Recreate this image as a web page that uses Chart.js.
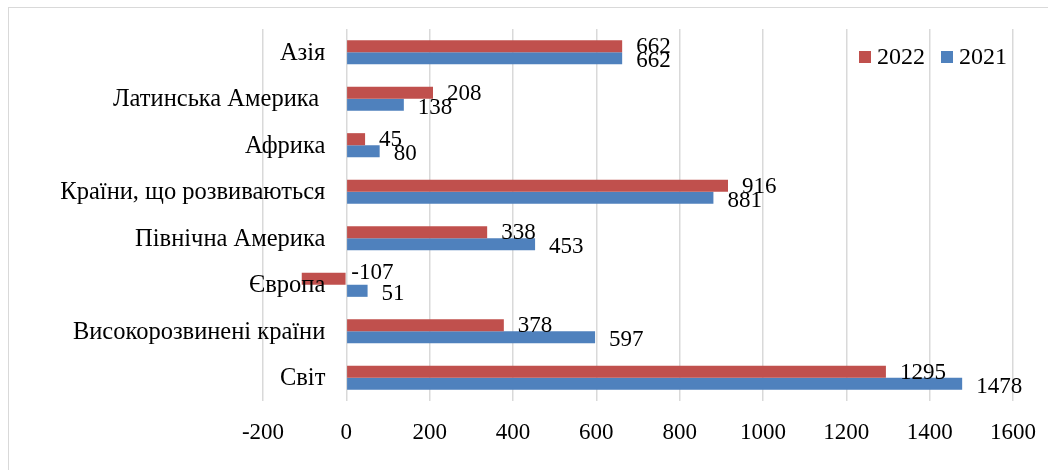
<!DOCTYPE html>
<html>
<head>
<meta charset="utf-8">
<script src="https://cdn.jsdelivr.net/npm/chart.js@4/dist/chart.umd.min.js"></script>
<style>
    html, body { margin: 0; padding: 0; background: #fff; overflow: hidden; }
    #wrap { position: relative; width: 1048px; height: 470px; }
    #frame { position: absolute; left: 8px; top: 7px; width: 1100px; height: 500px; border: 1.5px solid #d9d9d9; }
    canvas { position: absolute; left: 0; top: 0; }
</style>
</head>
<body>
<div id="wrap">
    <div id="frame"></div>
    <canvas id="chart" width="1048" height="470"></canvas>
</div>
<script>
var categories = ['Азія', 'Латинська Америка ', 'Африка', 'Країни, що розвиваються', 'Північна Америка', 'Європа', 'Високорозвинені країни', 'Світ'];
var values2022 = [662, 208, 45, 916, 338, -107, 378, 1295];
var values2021 = [662, 138, 80, 881, 453, 51, 597, 1478];
var xTicks = [-200, 1600, 200];

var fontFamily = '"Liberation Serif", "Times New Roman", serif';

// category names sit next to the zero axis, like Excel does
var categoryLabels = {
    id: 'categoryLabels',
    afterDatasetsDraw(chart) {
        var ctx = chart.ctx;
        var x0 = chart.scales.x.getPixelForValue(0);
        var y = chart.scales.y;
        ctx.save();
        ctx.font = '24.5px ' + fontFamily;
        ctx.fillStyle = '#000';
        ctx.textAlign = 'right';
        ctx.textBaseline = 'middle';
        chart.data.labels.forEach((label, i) => {
            ctx.fillText(label, x0 - 21, y.getPixelForValue(i) + 1);
        });
        ctx.restore();
    }
};

var valueLabels = {
    id: 'valueLabels',
    afterDatasetsDraw(chart) {
        var ctx = chart.ctx;
        var x0 = chart.scales.x.getPixelForValue(0);
        var shift = [1, 3];
        ctx.save();
        ctx.font = '23px ' + fontFamily;
        ctx.fillStyle = '#000';
        ctx.textAlign = 'left';
        ctx.textBaseline = 'middle';
        chart.data.datasets.forEach((ds, d) => {
            chart.getDatasetMeta(d).data.forEach((bar, i) => {
                var v = ds.data[i];
                if (v < 0) {
                    ctx.fillText(String(v), x0 + 5, bar.y - 6);
                } else {
                    ctx.fillText(String(v), bar.x + 14, bar.y + shift[d]);
                }
            });
        });
        ctx.restore();
    }
};

var legendBox = {
    id: 'legendBox',
    afterDraw(chart) {
        var ctx = chart.ctx;
        var x = 859;
        var y = 57;
        ctx.save();
        ctx.font = '24px ' + fontFamily;
        ctx.textBaseline = 'middle';
        ctx.textAlign = 'left';
        chart.data.datasets.forEach((ds) => {
            ctx.fillStyle = ds.backgroundColor;
            ctx.fillRect(x, y - 6, 12, 12);
            ctx.fillStyle = '#000';
            ctx.fillText(ds.label, x + 18, y + 1);
            x += 18 + ctx.measureText(ds.label).width + 16;
        });
        ctx.restore();
    }
};

new Chart(document.getElementById('chart'), {
    type: 'bar',
    data: {
        labels: categories,
        datasets: [{
            label: '2022',
            data: values2022,
            backgroundColor: '#c0504d',
            borderWidth: 0,
            categoryPercentage: 0.52,
            barPercentage: 1.0
        }, {
            label: '2021',
            data: values2021,
            backgroundColor: '#4f81bd',
            borderWidth: 0,
            categoryPercentage: 0.52,
            barPercentage: 1.0
        }]
    },
    options: {
        indexAxis: 'y',
        responsive: false,
        animation: false,
        layout: {
            padding: { left: 263, right: 35, top: 29, bottom: 24 }
        },
        plugins: {
            legend: { display: false },
            tooltip: { enabled: false }
        },
        scales: {
            x: {
                min: xTicks[0],
                max: xTicks[1],
                afterFit(scale) {
                    scale.height = 45;
                    scale.paddingLeft = 0;
                    scale.paddingRight = 0;
                },
                ticks: {
                    stepSize: xTicks[2],
                    color: '#000',
                    padding: 18,
                    font: { family: fontFamily, size: 23 },
                    callback: (v) => String(v)
                },
                grid: { color: '#d9d9d9', lineWidth: 1.5, drawTicks: false },
                border: { display: false }
            },
            y: {
                display: false,
                grid: { display: false }
            }
        }
    },
    plugins: [categoryLabels, valueLabels, legendBox]
});
</script>
</body>
</html>
